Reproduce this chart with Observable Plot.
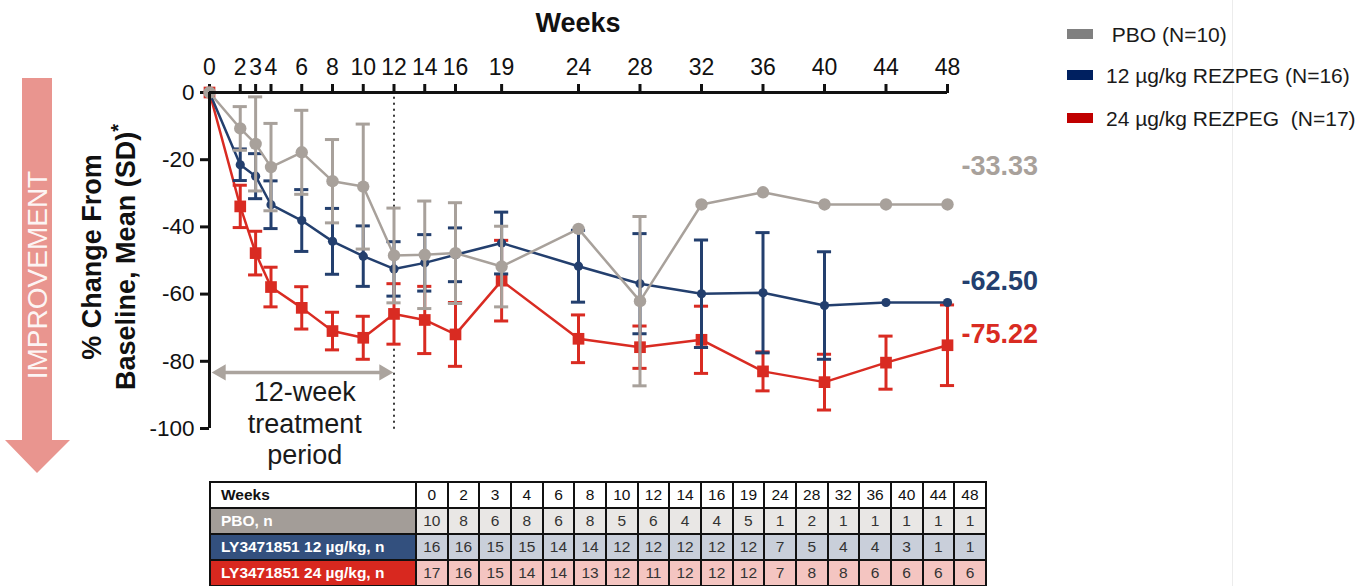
<!DOCTYPE html>
<html>
<head>
<meta charset="utf-8">
<script src="https://cdn.jsdelivr.net/npm/d3@7"></script>
<script src="https://cdn.jsdelivr.net/npm/@observablehq/plot@0.6"></script>
<style>
  html, body { margin: 0; padding: 0; background: #fff; }
  #wrap { position: relative; width: 1362px; height: 586px; overflow: hidden; background: #fff;
          font-family: "Liberation Sans", Arial, sans-serif; color: #111; }
  #chart { position: absolute; left: 0; top: 0; }
  .abs { position: absolute; }
  #ylab { left: -40px; top: 222px; width: 300px; height: 70px; transform: rotate(-90deg);
          text-align: center; font-weight: bold; font-size: 27px; line-height: 34px; white-space: nowrap; }
  #ylab sup { font-size: 20px; line-height: 0; }
  #improve { left: 0; top: 0; }
  #improveText { left: -112px; top: 258px; width: 300px; height: 34px; transform: rotate(-90deg);
          text-align: center; font-size: 28px; line-height: 34px; color: rgba(255,255,255,0.92); }
  #weeksTitle { left: 478px; top: 8px; width: 200px; text-align: center; font-weight: bold; font-size: 27px; }
  .leg { position: absolute; left: 1067px; font-size: 21px; line-height: 24px; white-space: pre; color: #1a1a1a; }
  .leg i { display: inline-block; width: 26px; height: 10px; margin-right: 13px; vertical-align: 3px; }
  #divider { left: 1232px; top: 0; width: 1px; height: 586px; background: #ececec; }
  table { position: absolute; left: 209px; top: 481px; border-collapse: collapse; table-layout: fixed;
          font-size: 15.5px; }
  td { border: 2px solid #111; height: 24px; padding: 0; text-align: center; color: #333; }
  td.lab { text-align: left; padding-left: 10px; font-weight: bold; color: #fff; }
  tr.hdr td { background: #fff; color: #111; }
  tr.hdr td.lab { color: #111; }
</style>
</head>
<body>
<div id="wrap">
  <div id="divider" class="abs"></div>
  <svg id="improve" class="abs" width="80" height="480">
    <polygon points="22,78 52,78 52,440 70,440 37,473 5,440 22,440" fill="#E9958F"/>
  </svg>
  <div id="improveText" class="abs">IMPROVEMENT</div>
  <div id="chart"></div>
  <div id="weeksTitle" class="abs">Weeks</div>
  <div id="ylab" class="abs">% Change From<br>Baseline, Mean (SD)<sup>*</sup></div>
  <div id="legend"></div>
  <table id="ntable"></table>
</div>
<script>
// Visit weeks and per-arm summaries (% change from baseline)
const weeks = [0, 2, 3, 4, 6, 8, 10, 12, 14, 16, 19, 24, 28, 32, 36, 40, 44, 48];

const pboMean = [0, -10.7, -15.3, -22.2, -17.8, -26.4, -28.0, -48.5, -48.3, -47.8, -51.8, -40.6, -62.1, -33.33, -29.7, -33.33, -33.33, -33.33];
const pboSD   = [null, 6.5, 14.0, 13.0, 12.5, 12.4, 18.6, 14.1, 16.0, 15.0, 12.0, null, 25.2, null, null, null, null, null];

const lowMean = [0, -21.5, -24.9, -33.4, -38.1, -44.3, -48.7, -52.5, -50.7, -48.3, -44.8, -51.7, -56.9, -59.9, -59.6, -63.4, -62.5, -62.50];
const lowSD   = [null, 4.7, 6.7, 7.1, 9.2, 9.8, 9.0, 8.1, 8.4, 8.0, 9.2, 10.7, 14.9, 16.0, 17.9, 16.0, null, null];

const highMean = [0, -33.9, -47.8, -57.9, -64.1, -71.0, -73.0, -65.9, -67.7, -72.0, -56.0, -73.3, -75.8, -73.6, -83.0, -86.2, -80.4, -75.22];
const highSD   = [null, 6.3, 6.5, 5.9, 6.3, 5.6, 6.4, 9.0, 10.0, 9.5, 12.0, 7.1, 6.3, 10.0, 5.8, 8.3, 7.9, 12.0];

// Number of subjects per visit
const pboN  = [10, 8, 6, 8, 6, 8, 5, 6, 4, 4, 5, 1, 2, 1, 1, 1, 1, 1];
const lowN  = [16, 16, 15, 15, 14, 14, 12, 12, 12, 12, 12, 7, 5, 4, 4, 3, 1, 1];
const highN = [17, 16, 15, 14, 14, 13, 12, 11, 12, 12, 12, 7, 8, 8, 6, 6, 6, 6];

const legendNames = [" PBO (N=10)", "12 µg/kg REZPEG (N=16)", "24 µg/kg REZPEG  (N=17)"];
const tableNames  = ["PBO, n", "LY3471851 12 µg/kg, n", "LY3471851 24 µg/kg, n"];
const yTicks = [0, -20, -40, -60, -80, -100];
const treatmentEnd = 12;

const gray = "#A8A19B", navy = "#233F6E", red = "#D92B22";
const arrowGray = "#ABA49E";

const rows = (mean, sd) => weeks.map((w, i) => ({week: w, mean: mean[i], sd: sd[i]}));
const pbo = rows(pboMean, pboSD), low = rows(lowMean, lowSD), high = rows(highMean, highSD);

// half-width of error-bar caps, in weeks
const cap = 0.46;

function arm(data, color, symbol, r) {
  const bars = data.filter(d => d.sd != null);
  return [
    Plot.line(data, {x: "week", y: "mean", stroke: color, strokeWidth: 2.5}),
    Plot.ruleX(bars, {x: "week", y1: d => d.mean - d.sd, y2: d => d.mean + d.sd, stroke: color, strokeWidth: 3}),
    Plot.ruleY(bars, {y: d => d.mean + d.sd, x1: d => d.week - cap, x2: d => d.week + cap, stroke: color, strokeWidth: 3}),
    Plot.ruleY(bars, {y: d => d.mean - d.sd, x1: d => d.week - cap, x2: d => d.week + cap, stroke: color, strokeWidth: 3}),
    Plot.dot(data, {x: "week", y: "mean", fill: color, symbol, r})
  ];
}

function endLabel(data, color, dy) {
  const last = data[data.length - 1];
  return Plot.text([last], {x: "week", y: "mean", text: d => d.mean.toFixed(2), fill: color,
    textAnchor: "start", dx: 14, dy, fontSize: 27, fontWeight: "bold"});
}

const chart = Plot.plot({
  width: 1362,
  height: 480,
  marginLeft: 209,
  marginRight: 415,
  marginTop: 92,
  marginBottom: 52,
  style: {fontFamily: '"Liberation Sans", Arial, sans-serif', fontSize: "20px", color: "#111", overflow: "visible", background: "transparent"},
  x: {domain: [0, 48]},
  y: {domain: [-100, 0]},
  marks: [
    Plot.axisX({anchor: "top", ticks: weeks, tickSize: 9, tickPadding: 9, fontSize: 23, strokeWidth: 3, tickFormat: d => String(d), label: null}),
    Plot.axisY({ticks: yTicks, tickSize: 9, tickPadding: 6, fontSize: 22.5, strokeWidth: 3, tickFormat: d => String(d), label: null}),
    Plot.ruleX([treatmentEnd], {y1: -100, y2: -1.5, stroke: "#333", strokeWidth: 2, strokeDasharray: "0.5,5.5", strokeLinecap: "round"}),
    // 12-week treatment window annotation
    Plot.ruleY([-83.3], {x1: 0.7, x2: 11.4, stroke: arrowGray, strokeWidth: 3.5}),
    Plot.dot([{x: 0.75, r: -90}, {x: 11.35, r: 90}], {x: "x", y: () => -83.3, rotate: "r", symbol: "triangle", r: 6, fill: arrowGray}),
    Plot.text(["12-week\ntreatment\nperiod"], {x: () => 6.2, y: () => -85, lineAnchor: "top", fontSize: 27, lineHeight: 1.18, fill: "#1a1a1a"}),
    ...arm(high, red, "square", 6.6),
    ...arm(low, navy, "circle", 4.6),
    ...arm(pbo, gray, "circle", 6.2),
    endLabel(pbo, gray, -38),
    endLabel(low, navy, -21),
    endLabel(high, red, -11),
    Plot.ruleY([0], {x1: 0, x2: 48, stroke: "#111", strokeWidth: 3}),
    Plot.ruleX([0], {y1: -100, y2: 0, stroke: "#111", strokeWidth: 3})
  ]
});
document.getElementById("chart").append(chart);

// Legend
const legendColors = ["#808080", "#002060", "#C00000"];
const legendTops = [23, 64, 107];
const legend = document.getElementById("legend");
legendNames.forEach((name, i) => {
  const div = document.createElement("div");
  div.className = "leg";
  div.style.top = legendTops[i] + "px";
  div.innerHTML = `<i style="background:${legendColors[i]}"></i>`;
  div.append(document.createTextNode(name));
  legend.append(div);
});

// Subjects-at-visit table
const table = document.getElementById("ntable");
const colgroup = document.createElement("colgroup");
colgroup.innerHTML = `<col style="width:206px">` + weeks.map(() => `<col style="width:31.67px">`).join("");
table.append(colgroup);
function addRow(cls, label, values, labBg, cellBg) {
  const tr = document.createElement("tr");
  if (cls) tr.className = cls;
  tr.innerHTML = `<td class="lab" style="background:${labBg}">${label}</td>` +
    values.map(v => `<td style="background:${cellBg}">${v}</td>`).join("");
  table.append(tr);
}
addRow("hdr", "Weeks", weeks, "#fff", "#fff");
addRow("", tableNames[0], pboN, "#A39D98", "#E9E7E5");
addRow("", tableNames[1], lowN, "#33507E", "#C9CFDA");
addRow("", tableNames[2], highN, "#D8281F", "#F4C5C1");
</script>
</body>
</html>
